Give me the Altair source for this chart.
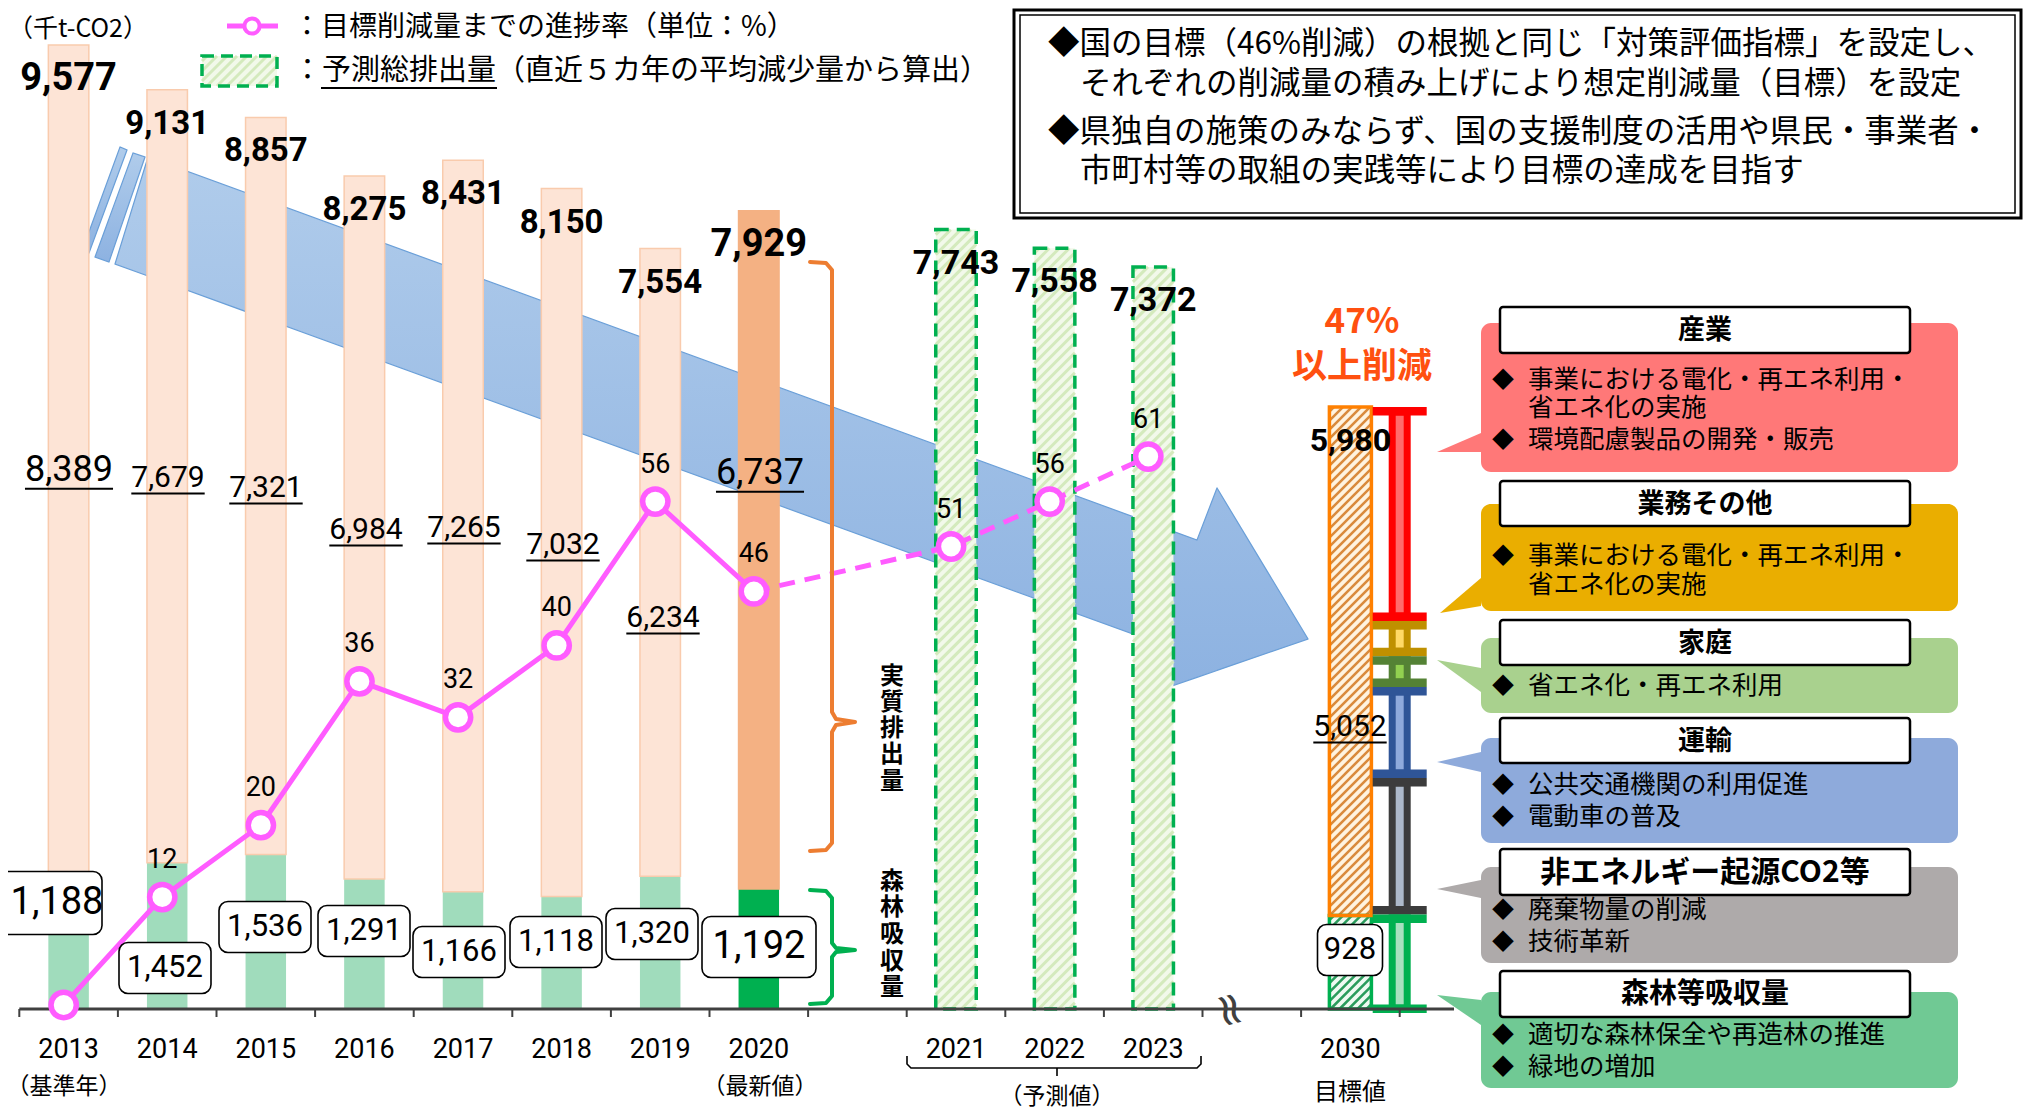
import altair as alt
import pandas as pd

# ---------------- values ----------------
years = ["2013", "2014", "2015", "2016", "2017", "2018", "2019", "2020"]
gross_emission = [9577, 9131, 8857, 8275, 8431, 8150, 7554, 7929]
net_emission = [8389, 7679, 7321, 6984, 7265, 7032, 6234, 6737]
forest_absorption = [1188, 1452, 1536, 1291, 1166, 1118, 1320, 1192]
forecast_years = ["2021", "2022", "2023"]
forecast_emission = [7743, 7558, 7372]
target_year = "2030"
target_gross = 5980
target_net = 5052
target_forest = 928
progress_years = years + forecast_years
progress_pct = [0, 12, 20, 36, 32, 40, 56, 46, 51, 56, 61]
sector_names = ["産業", "業務その他", "家庭", "運輸", "非エネルギー起源CO2等", "森林等吸収量"]
sector_bounds = [5980, 3855, 3505, 3200, 2295, 940, -40]

# x-axis category slots (gap after 2020, break before 2030)
year_slot = [0, 1, 2, 3, 4, 5, 6, 7]
forecast_slot = [9, 10, 11]
target_slot = 13
sector_slot = 13.5

# ---------------- geometry ----------------
W, H = 2016, 1102
OX, OY = 8, 8
X0, SX = 68.6, 98.6
Y0, SY = 1009.0, 0.10066
P0, SP = 1005.0, 8.99


def sx(px):
    return (px - X0) / SX


def vy(py):
    return (Y0 - py) / SY


XS = alt.Scale(domain=[sx(OX), sx(OX + W)], nice=False, zero=False)
YS = alt.Scale(domain=[vy(OY + H), vy(OY)], nice=False, zero=False)
PS = alt.Scale(domain=[(P0 - OY - H) / SP, (P0 - OY) / SP], nice=False, zero=False)
DXS = alt.Scale(domain=[OX, OX + W], nice=False, zero=False)
DYS = alt.Scale(domain=[OY, OY + H], nice=False, zero=False, reverse=True)


def ex(f):
    return alt.X(f"{f}:Q", scale=XS, axis=None)


def ey(f, s=YS):
    return alt.Y(f"{f}:Q", scale=s, axis=None)


def dx(f):
    return alt.X(f"{f}:Q", scale=DXS, axis=None)


def dy(f):
    return alt.Y(f"{f}:Q", scale=DYS, axis=None)


JP = "Noto Sans CJK JP"
NUM = "Roboto"
PINK = "#ff5cff"


def hatch_px(x0, x1, y0, y1, step):
    segs = []
    c = x0 + y0 + step * 0.5
    while c < x1 + y1:
        xa = max(x0, c - y1)
        xb = min(x1, c - y0)
        if xb - xa > 0.5:
            segs.append((xa, c - xa, xb, c - xb))
        c += step
    return segs


def hatch_data(slot, lo, hi, width_px, step):
    cx = X0 + slot * SX
    segs = hatch_px(cx - width_px / 2, cx + width_px / 2, Y0 - hi * SY, Y0 - lo * SY, step)
    return [{"xa": sx(a), "ya": vy(b), "xb": sx(c), "yb": vy(d)} for a, b, c, d in segs]


def poly_area(verts, g, c="#000"):
    xs_ = sorted(set(v[0] for v in verts))
    xmin, xmax = xs_[0], xs_[-1]
    eps = 0.01
    samples = []
    for xb in xs_:
        for xx in (xb - eps, xb + eps):
            if xmin < xx < xmax:
                samples.append(xx)
    rows = []
    n = len(verts)
    for xx in samples:
        ys_ = []
        for i in range(n):
            (ax, ay), (bx, by) = verts[i], verts[(i + 1) % n]
            if ax == bx:
                continue
            if min(ax, bx) <= xx <= max(ax, bx):
                ys_.append(ay + (xx - ax) * (by - ay) / (bx - ax))
        rows.append({"x": xx, "top": min(ys_), "bot": max(ys_), "g": g, "c": c})
    return rows


def drect(rows, **mk):
    df = pd.DataFrame(rows, columns=["x0", "y0", "x1", "y1"])
    return alt.Chart(df).mark_rect(**mk).encode(x=dx("x0"), x2="x1", y=dy("y0"), y2="y1")


def dtext(rows, **mk):
    df = pd.DataFrame(rows, columns=["x", "y", "t"])
    return alt.Chart(df).mark_text(baseline="middle", **mk).encode(x=dx("x"), y=dy("y"), text="t:N")


def dlines(groups, **mk):
    rows = []
    for g, (col, pts) in enumerate(groups):
        for i, (x, y) in enumerate(pts):
            rows.append({"x": x, "y": y, "i": i, "g": g, "c": col})
    return alt.Chart(pd.DataFrame(rows)).mark_line(**mk).encode(
        x=dx("x"), y=dy("y"), order="i:Q", detail="g:N", color=alt.Color("c:N", scale=None))


def drules(rows, **mk):
    df = pd.DataFrame(rows, columns=["x0", "y0", "x1", "y1"])
    return alt.Chart(df).mark_rule(**mk).encode(x=dx("x0"), x2="x1", y=dy("y0"), y2="y1")


# ================= background decoration: big arrow =================
arrow_rows = []
arrow_rows += poly_area([(115, 264), (148, 157), (1197, 540), (1217, 488), (1308, 639),
                         (1157.5, 691), (1157.5, 643)], 0)
arrow_rows += poly_area([(120, 147), (127, 150), (89, 253), (82, 251)], 1)
arrow_rows += poly_area([(133, 153), (145, 157), (109, 262), (95, 257)], 2)
grad = alt.Gradient(gradient="linear",
                    stops=[alt.GradientStop(offset=0, color="#b0cceb"),
                           alt.GradientStop(offset=1, color="#8db2e1")],
                    x1=0, x2=0, y1=0, y2=1)
arrow_layer = alt.Chart(pd.DataFrame(arrow_rows)).mark_area(
    color=grad, stroke="#6a9fd8", strokeWidth=1.2).encode(
    x=dx("x"), y=dy("top"), y2="bot", detail="g:N")
deco_back = alt.layer(arrow_layer)

# ================= data group (slot / value scales) =================
BW = 40.5 / SX
bars = pd.DataFrame({"year": years, "slot": year_slot, "gross": gross_emission,
                     "net": net_emission, "forest": forest_absorption})
bars["x0"] = bars["slot"] - BW / 2
bars["x1"] = bars["slot"] + BW / 2
bars["zero"] = 0.0
bars["ncol"] = ["#fde4d6"] * 7 + ["#f4b183"]
bars["scol"] = ["#f9cbad"] * 7 + ["#f4b183"]
bars["fcol"] = ["#a0dcbc"] * 7 + ["#00b050"]

l_forest = alt.Chart(bars).mark_rect().encode(
    x=ex("x0"), x2="x1", y=ey("zero"), y2="forest", color=alt.Color("fcol:N", scale=None))
l_net = alt.Chart(bars).mark_rect(strokeWidth=1.5).encode(
    x=ex("x0"), x2="x1", y=ey("forest"), y2="gross",
    color=alt.Color("ncol:N", scale=None), stroke=alt.Stroke("scol:N", scale=None))

fc = pd.DataFrame({"year": forecast_years, "slot": forecast_slot, "value": forecast_emission})
fc["x0"] = fc["slot"] - BW / 2
fc["x1"] = fc["slot"] + BW / 2
fc["zero"] = 0.0
l_fc_base = alt.Chart(fc).mark_rect(color="#f2f9ea").encode(
    x=ex("x0"), x2="x1", y=ey("zero"), y2="value")
fc_h = []
for s, v in zip(forecast_slot, forecast_emission):
    fc_h += hatch_data(s, 0, v, 40.5, 10)
l_fc_hatch = alt.Chart(pd.DataFrame(fc_h)).mark_rule(color="#d4eabd", strokeWidth=3).encode(
    x=ex("xa"), x2="xb", y=ey("ya"), y2="yb")
l_fc_border = alt.Chart(fc).mark_rect(fill="#ffffff", fillOpacity=0, stroke="#00b050",
                                      strokeWidth=3.5, strokeDash=[13, 8]).encode(
    x=ex("x0"), x2="x1", y=ey("zero"), y2="value")

TW = 42 / SX
tg = pd.DataFrame({"slot": [target_slot, target_slot], "lo": [0, target_forest],
                   "hi": [target_forest, target_gross]})
tg["x0"] = tg["slot"] - TW / 2
tg["x1"] = tg["slot"] + TW / 2
tg["base"] = ["#effaf2", "#fff3df"]
tg["edge"] = ["#00b050", "#ff8000"]
l_tg_base = alt.Chart(tg).mark_rect().encode(
    x=ex("x0"), x2="x1", y=ey("lo"), y2="hi", color=alt.Color("base:N", scale=None))
l_tg_hatch_o = alt.Chart(pd.DataFrame(hatch_data(target_slot, target_forest, target_gross, 42, 9))).mark_rule(
    color="#d98a3c", strokeWidth=2.5).encode(x=ex("xa"), x2="xb", y=ey("ya"), y2="yb")
l_tg_hatch_g = alt.Chart(pd.DataFrame(hatch_data(target_slot, 0, target_forest, 42, 9))).mark_rule(
    color="#2a9c5c", strokeWidth=2.5).encode(x=ex("xa"), x2="xb", y=ey("ya"), y2="yb")
l_tg_border = alt.Chart(tg).mark_rect(fill="#ffffff", fillOpacity=0, strokeWidth=3.5).encode(
    x=ex("x0"), x2="x1", y=ey("lo"), y2="hi", stroke=alt.Stroke("edge:N", scale=None))

CAP = 8.5 / SY
ib_outer = ["#ff0000", "#bf9000", "#548235", "#2f5597", "#3c3c3c", "#00b050"]
ib_inner = ["#ff6b6b", "#ffd966", "#92d050", "#8faadc", "#adb9ca", "#a9e0c0"]
ib_rows = []
s0 = sector_slot
for i in range(6):
    hi, lo = sector_bounds[i], sector_bounds[i + 1]
    ib_rows += [
        dict(x0=s0 - 11 / SX, x1=s0 + 11 / SX, y0=lo, y1=hi, c=ib_outer[i], n=sector_names[i]),
        dict(x0=s0 - 4 / SX, x1=s0 + 4 / SX, y0=lo + CAP, y1=hi - CAP, c=ib_inner[i], n=sector_names[i]),
        dict(x0=s0 - 27 / SX, x1=s0 + 27 / SX, y0=hi - CAP, y1=hi, c=ib_outer[i], n=sector_names[i]),
        dict(x0=s0 - 27 / SX, x1=s0 + 27 / SX, y0=lo, y1=lo + CAP, c=ib_outer[i], n=sector_names[i]),
    ]
l_ib = alt.Chart(pd.DataFrame(ib_rows)).mark_rect().encode(
    x=ex("x0"), x2="x1", y=ey("y0"), y2="y1", color=alt.Color("c:N", scale=None))

axis_df = pd.DataFrame({"a": [-0.5], "b": [sx(1454)], "z": [0.0]})
l_axis = alt.Chart(axis_df).mark_rule(color="#404040", strokeWidth=3).encode(
    x=ex("a"), x2="b", y=ey("z"), y2="z")
tick_df = pd.DataFrame({"b": [k - 0.5 for k in range(15)]})
tick_df["z"] = 0.0
tick_df["d"] = -8 / SY
l_ticks = alt.Chart(tick_df).mark_rule(color="#404040", strokeWidth=2).encode(
    x=ex("b"), y=ey("z"), y2="d")

yl = pd.DataFrame({"slot": year_slot + forecast_slot + [target_slot],
                   "t": years + forecast_years + [target_year]})
yl["z"] = 0.0
l_years = alt.Chart(yl).mark_text(font=NUM, fontSize=27, dy=41, baseline="middle", color="#000").encode(
    x=ex("slot"), y=ey("z"), text="t:N")

tl = pd.DataFrame({"slot": year_slot + forecast_slot + [target_slot],
                   "v": gross_emission + forecast_emission + [target_gross]})
tl["t"] = [f"{v:,}" for v in tl["v"]]
tl["s"] = [38, 33, 33, 33, 33, 33, 33, 38, 34, 34, 34, 32]
l_top = alt.Chart(tl).mark_text(font=NUM, fontWeight="bold", dy=34, baseline="middle", color="#000").encode(
    x=ex("slot"), y=ey("v"), text="t:N", size=alt.Size("s:Q", scale=None))

brk = pd.DataFrame({"slot": [sx(1233)], "z": [0.0]})
l_break = alt.Chart(brk).mark_text(text="≈", font="DejaVu Sans", fontSize=46, angle=75,
                                   baseline="middle", color="#404040", dy=4).encode(
    x=ex("slot"), y=ey("z"))

data_grp = alt.layer(l_forest, l_net, l_fc_base, l_fc_hatch, l_fc_border,
                     l_tg_base, l_tg_hatch_o, l_tg_hatch_g, l_tg_border, l_ib,
                     l_axis, l_ticks, l_years, l_top, l_break)

# ================= progress line (percent scale) =================
pc = pd.DataFrame({"year": progress_years, "slot": year_slot + forecast_slot, "pct": progress_pct})
pc["xp"] = pc["slot"] - 0.05
l_ps = alt.Chart(pc.iloc[:8]).mark_line(color=PINK, strokeWidth=5).encode(x=ex("xp"), y=ey("pct", PS))
l_pd = alt.Chart(pc.iloc[7:]).mark_line(color=PINK, strokeWidth=5, strokeDash=[16, 10]).encode(
    x=ex("xp"), y=ey("pct", PS))
l_pp = alt.Chart(pc).mark_point(shape="circle", filled=True, fill="#ffffff", stroke=PINK,
                                strokeWidth=5.5, size=640, opacity=1).encode(x=ex("xp"), y=ey("pct", PS))
l_pl = alt.Chart(pc[pc["pct"] > 0]).mark_text(font=NUM, fontSize=27, dy=-37, baseline="middle",
                                              color="#000").encode(
    x=ex("xp"), y=ey("pct", PS), text="pct:Q")
pct_grp = alt.layer(l_ps, l_pd, l_pp, l_pl)

# ================= foreground decoration (page pixels) =================
front = []

# braces
front.append(dlines([
    ("#ed7d31", [(810, 262), (826, 263), (832, 270), (832, 712), (836, 719), (855, 722),
                 (836, 725), (832, 732), (832, 843), (826, 850), (810, 851)]),
    ("#00b050", [(810, 890), (826, 891), (832, 898), (832, 943), (836, 948), (855, 950),
                 (836, 952), (832, 957), (832, 996), (826, 1003), (810, 1004)]),
], strokeWidth=4, strokeJoin="round", strokeCap="round"))
vt = []
for ch, yy in zip("実質排出量", [677, 703, 729, 755, 782]):
    vt.append((892, yy, ch))
for ch, yy in zip("森林吸収量", [882, 908, 935, 962, 988]):
    vt.append((892, yy, ch))
front.append(dtext(vt, font=JP, fontSize=24, fontWeight="bold", align="center", color="#000"))

# net emission labels (underlined)
net_pos = [(69, 470, 36), (168, 478, 30), (266, 488, 30), (366, 530, 30), (464, 528, 30),
           (563, 545, 30), (663, 618, 30), (760, 473, 36), (1350, 727, 30)]
net_vals = net_emission + [target_net]
nl = pd.DataFrame([{"x": p[0], "y": p[1], "s": p[2], "t": f"{v:,}"} for p, v in zip(net_pos, net_vals)])
front.append(alt.Chart(nl).mark_text(font=NUM, baseline="middle", align="center", color="#000").encode(
    x=dx("x"), y=dy("y"), text="t:N", size=alt.Size("s:Q", scale=None)))
ul = []
for (x, y, s), v in zip(net_pos, net_vals):
    w = s * (0.5615 * 4 + 0.2)
    ul.append((x - w / 2, y + s * 0.52, x + w / 2, y + s * 0.52))
front.append(drules(ul, color="#000", strokeWidth=2))

# forest absorption boxes
fb_pos = [(45, 903, 114, 63, 38), (165, 968, 92, 51, 31), (265, 927, 92, 51, 31), (364, 931, 92, 51, 31),
          (459, 952, 92, 51, 31), (556, 942, 92, 51, 31), (652, 934, 92, 51, 31),
          (759, 947, 114, 61, 38), (1350, 950, 65, 51, 31)]
fb_text_x = [57, 165, 265, 364, 459, 556, 652, 759, 1350]
fb_vals = forest_absorption + [target_forest]
front.append(drect([(x - w / 2, y - h / 2, x + w / 2, y + h / 2) for x, y, w, h, s in fb_pos],
                   fill="#ffffff", stroke="#000", strokeWidth=1.6, cornerRadius=9))
fl = pd.DataFrame([{"x": tx, "y": p[1], "s": p[4], "t": f"{v:,}"}
                   for p, tx, v in zip(fb_pos, fb_text_x, fb_vals)])
front.append(alt.Chart(fl).mark_text(font=NUM, baseline="middle", align="center", color="#000").encode(
    x=dx("x"), y=dy("y"), text="t:N", size=alt.Size("s:Q", scale=None)))

# sub labels under axis
front.append(dtext([(64, 1087, "（基準年）"), (760, 1087, "（最新値）"), (1057, 1097, "（予測値）")],
                   font=JP, fontSize=23, align="center", color="#000"))
front.append(dtext([(1350, 1093, "目標値")], font=JP, fontSize=24, align="center", color="#000"))
front.append(dlines([
    ("#000000", [(907, 1056), (907, 1064), (911, 1068), (1197, 1068), (1201, 1064), (1201, 1056)]),
    ("#000000", [(1057, 1068), (1057, 1076)]),
], strokeWidth=1.6))

# 47% text
front.append(dtext([(1362, 322, "47%"), (1362, 367, "以上削減")], font=JP, fontSize=35,
                   fontWeight="bold", align="center", color="#ff5010"))

# right-hand panels
panels = [
    ("#ff7878", 323, 472, 307, 353, 27, [(1481, 433), (1437, 452), (1481, 452)],
     [(380, "事業における電化・再エネ利用・", True), (408, "省エネ化の実施", False),
      (440, "環境配慮製品の開発・販売", True)]),
    ("#eaae00", 504, 611, 481, 526, 27, [(1481, 578), (1440, 613), (1481, 606)],
     [(556, "事業における電化・再エネ利用・", True), (585, "省エネ化の実施", False)]),
    ("#a9d18e", 638, 713, 620, 665, 27, [(1437, 660), (1481, 668), (1481, 692)],
     [(686, "省エネ化・再エネ利用", True)]),
    ("#8eaadb", 738, 843, 718, 763, 27, [(1481, 752), (1437, 762), (1481, 772)],
     [(785, "公共交通機関の利用促進", True), (817, "電動車の普及", True)]),
    ("#aeaaaa", 867, 963, 849, 895, 30, [(1481, 880), (1437, 889), (1481, 898)],
     [(910, "廃棄物量の削減", True), (942, "技術革新", True)]),
    ("#70c994", 992, 1088, 971, 1017, 28, [(1481, 1000), (1437, 995), (1481, 1025)],
     [(1035, "適切な森林保全や再造林の推進", True), (1067, "緑地の増加", True)]),
]
ptr_rows = []
box_rows = []
for k, (col, b0, b1, t0, t1, fs, tri, lines) in enumerate(panels):
    ptr_rows += poly_area(tri, k, col)
    box_rows.append({"x0": 1481, "x1": 1958, "y0": b0, "y1": b1, "c": col})
front.append(alt.Chart(pd.DataFrame(ptr_rows)).mark_area().encode(
    x=dx("x"), y=dy("top"), y2="bot", detail="g:N", color=alt.Color("c:N", scale=None)))
front.append(alt.Chart(pd.DataFrame(box_rows)).mark_rect(cornerRadius=10).encode(
    x=dx("x0"), x2="x1", y=dy("y0"), y2="y1", color=alt.Color("c:N", scale=None)))
front.append(drect([(1500, p[3], 1910, p[4]) for p in panels], fill="#ffffff", stroke="#000",
                   strokeWidth=2.5, cornerRadius=3))
tt = pd.DataFrame([{"x": 1705, "y": (p[3] + p[4]) / 2 + 1, "t": n, "s": p[5]}
                   for p, n in zip(panels, sector_names)])
front.append(alt.Chart(tt).mark_text(font=JP, fontWeight="bold", baseline="middle", align="center",
                                     color="#000").encode(
    x=dx("x"), y=dy("y"), text="t:N", size=alt.Size("s:Q", scale=None)))
bul, body = [], []
for p in panels:
    for yy, txt, b in p[7]:
        body.append((1528, yy, txt))
        if b:
            bul.append((1492, yy, "◆"))
front.append(dtext(bul, font=JP, fontSize=22, align="left", color="#000"))
front.append(dtext(body, font=JP, fontSize=25.5, align="left", color="#000"))

# top-right message box
front.append(drect([(1014, 10, 2021, 218)], fill="#ffffff", fillOpacity=0, stroke="#000", strokeWidth=3))
front.append(drect([(1020, 15, 2015, 213)], fill="#ffffff", fillOpacity=0, stroke="#000", strokeWidth=1.5))
front.append(dtext([
    (1048, 45, "◆国の目標（46%削減）の根拠と同じ「対策評価指標」を設定し、"),
    (1080, 85, "それぞれの削減量の積み上げにより想定削減量（目標）を設定"),
    (1048, 133, "◆県独自の施策のみならず、国の支援制度の活用や県民・事業者・"),
    (1080, 172, "市町村等の取組の実践等により目標の達成を目指す"),
], font=JP, fontSize=31.5, align="left", color="#000"))

# legend
front.append(dtext([(8, 29, "（千t-CO2）")], font=JP, fontSize=25, align="left", color="#000"))
front.append(drules([(227, 26, 278, 26)], color=PINK, strokeWidth=5))
lg_pt = pd.DataFrame({"x": [252.0], "y": [26.0]})
front.append(alt.Chart(lg_pt).mark_point(shape="circle", filled=True, fill="#ffffff", stroke=PINK,
                                         strokeWidth=4, size=230, opacity=1).encode(x=dx("x"), y=dy("y")))
front.append(drect([(202, 56, 277, 86)], color="#f2f9ea"))
lh = hatch_px(202, 277, 56, 86, 10)
front.append(drules([(a, b, c, d) for a, b, c, d in lh], color="#d4eabd", strokeWidth=3))
front.append(drect([(202, 56, 277, 86)], fill="#ffffff", fillOpacity=0, stroke="#00b050",
                   strokeWidth=3.5, strokeDash=[12, 7]))
front.append(dtext([(293, 28, "：目標削減量までの進捗率（単位：%）")],
                   font=JP, fontSize=28, align="left", color="#000"))
front.append(dtext([(293, 71, "：予測総排出量（直近５カ年の平均減少量から算出）")],
                   font=JP, fontSize=29, align="left", color="#000"))
front.append(drules([(321, 88, 497, 88)], color="#000", strokeWidth=2))

deco_front = alt.layer(*front)

chart = alt.layer(deco_back, data_grp, pct_grp, deco_front).resolve_scale(
    x="independent", y="independent").properties(
    width=W, height=H, autosize=alt.AutoSizeParams(type="none"), padding=0,
    background="#ffffff").configure_view(strokeWidth=0)

chart.save("out.html", embed_options={"renderer": "svg", "actions": False})
